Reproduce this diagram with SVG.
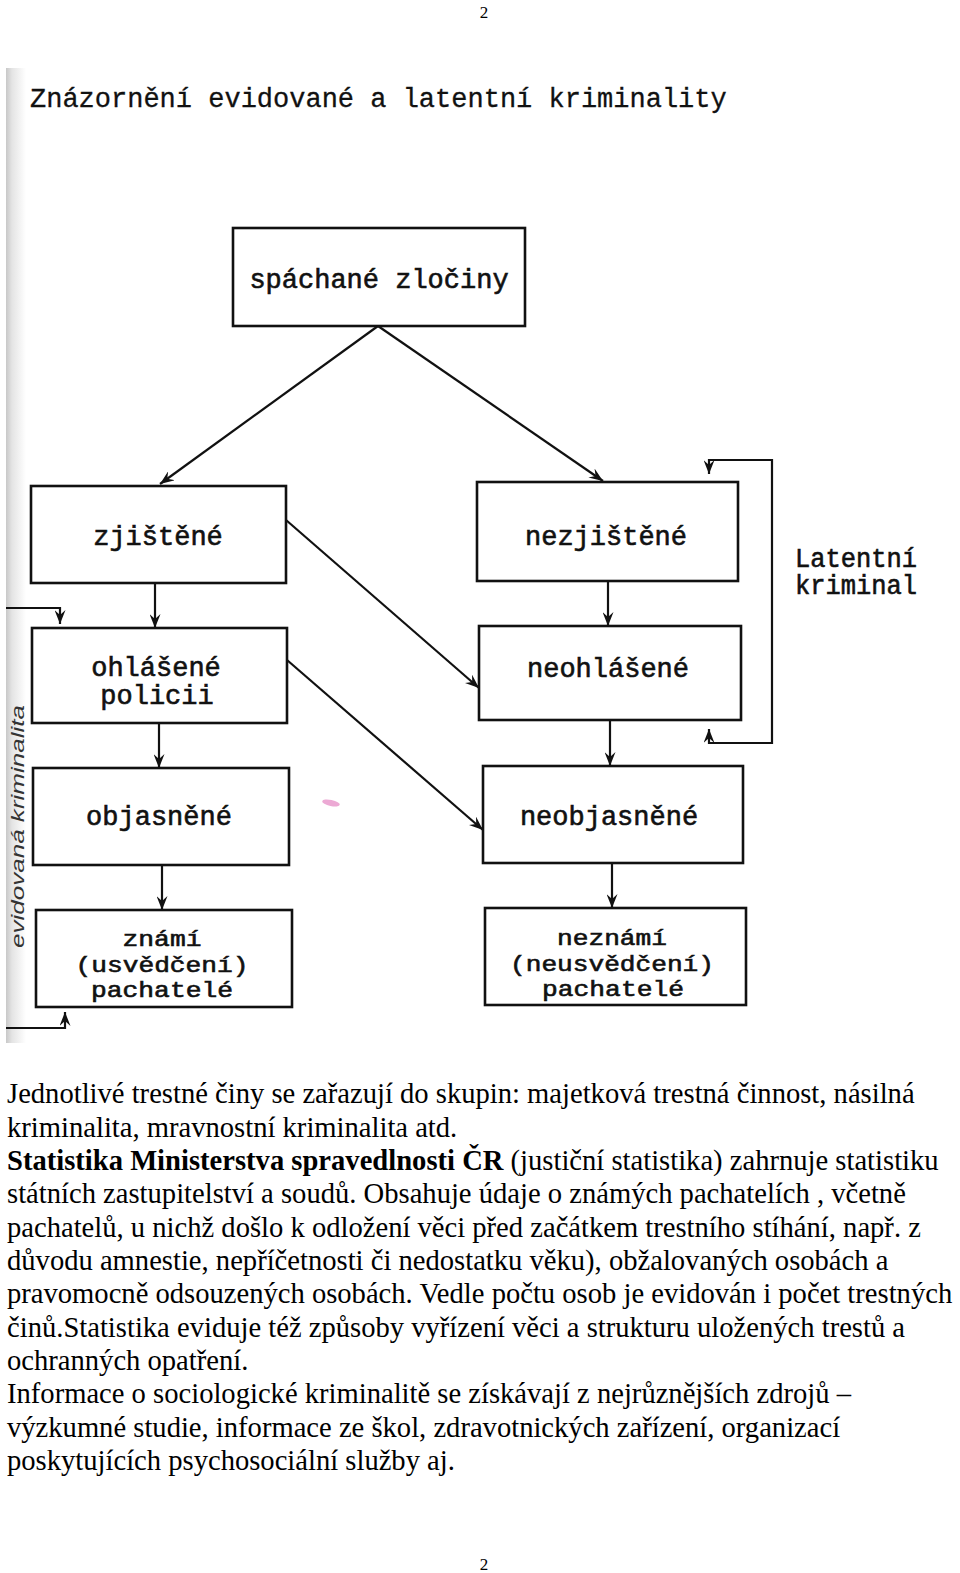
<svg xmlns="http://www.w3.org/2000/svg" width="960" height="1573" viewBox="0 0 960 1573">
<style>
.box{fill:#fff;stroke:#111;stroke-width:2.6}
.lbl{font-family:"Liberation Mono","Courier New",monospace;font-size:27px;fill:#111;stroke:#111;stroke-width:0.6;text-anchor:middle}
.sm{font-size:22px;stroke-width:0.6}
.title{font-family:"Liberation Mono","Courier New",monospace;font-size:27px;fill:#111;stroke:#111;stroke-width:0.3}
.con{fill:none;stroke:#111;stroke-width:2.2}
.body{font-family:"Liberation Serif","Times New Roman",serif;font-size:28.6px;fill:#000}
.pg{font-family:"Liberation Serif","Times New Roman",serif;font-size:17px;fill:#000;text-anchor:middle}
.hand{font-family:"Liberation Sans",Arial,sans-serif;font-style:italic;font-size:19px;fill:#333}
</style>
<defs>
<marker id="ah" viewBox="0 0 14 11" refX="14" refY="5.5" markerWidth="14" markerHeight="11" markerUnits="userSpaceOnUse" orient="auto">
<path d="M0,0 L14,5.5 L0,11 L5,5.5 z" fill="#111"/>
</marker>
<linearGradient id="edge" x1="0" y1="0" x2="1" y2="0">
<stop offset="0" stop-color="#c8c8c8"/>
<stop offset="0.3" stop-color="#e4e4e4"/>
<stop offset="1" stop-color="#ffffff"/>
</linearGradient>
</defs>
<rect width="960" height="1573" fill="#fff"/>
<rect x="6" y="68" width="20" height="975" fill="url(#edge)"/>

<text class="pg" x="484" y="18">2</text>
<text class="title" x="30" y="107">Znázornění evidované a latentní kriminality</text>

<g id="spachane">
<rect class="box" x="233" y="228" width="292" height="98"/>
<text class="lbl" x="379" y="288">spáchané zločiny</text>
</g>
<g id="zjistene">
<rect class="box" x="31" y="486" width="255" height="97"/>
<text class="lbl" x="158" y="545">zjištěné</text>
</g>
<g id="nezjistene">
<rect class="box" x="477" y="482" width="261" height="99"/>
<text class="lbl" x="606" y="545">nezjištěné</text>
</g>
<g id="ohlasene">
<rect class="box" x="32" y="628" width="255" height="95"/>
<text class="lbl" y="676"><tspan x="156">ohlášené</tspan><tspan x="157" dy="28">policii</tspan></text>
</g>
<g id="neohlasene">
<rect class="box" x="479" y="626" width="262" height="94"/>
<text class="lbl" x="608" y="677">neohlášené</text>
</g>
<g id="objasnene">
<rect class="box" x="33" y="768" width="256" height="97"/>
<text class="lbl" x="159" y="825">objasněné</text>
</g>
<g id="neobjasnene">
<rect class="box" x="483" y="766" width="260" height="97"/>
<text class="lbl" x="609" y="825">neobjasněné</text>
</g>
<g id="znami">
<rect class="box" x="36" y="910" width="256" height="97"/>
<text class="lbl sm" x="162" y="946" textLength="79" lengthAdjust="spacingAndGlyphs">známí</text>
<text class="lbl sm" x="162" y="972" textLength="173" lengthAdjust="spacingAndGlyphs">(usvědčení)</text>
<text class="lbl sm" x="162" y="997" textLength="142" lengthAdjust="spacingAndGlyphs">pachatelé</text>
</g>
<g id="neznami">
<rect class="box" x="485" y="908" width="261" height="97"/>
<text class="lbl sm" x="612" y="945" textLength="110" lengthAdjust="spacingAndGlyphs">neznámí</text>
<text class="lbl sm" x="612" y="971" textLength="204" lengthAdjust="spacingAndGlyphs">(neusvědčení)</text>
<text class="lbl sm" x="613" y="996" textLength="142" lengthAdjust="spacingAndGlyphs">pachatelé</text>
</g>

<g id="latentni">
<text class="lbl" style="text-anchor:start" x="795" y="567" textLength="122" lengthAdjust="spacingAndGlyphs">Latentní</text>
<text class="lbl" style="text-anchor:start" x="795" y="594" textLength="122" lengthAdjust="spacingAndGlyphs">kriminal</text>
</g>
<g id="evidovana">
<text class="hand" transform="translate(24,948) rotate(-90)" textLength="243" lengthAdjust="spacingAndGlyphs">evidovaná kriminalita</text>
</g>

<g id="connectors">
<path class="con" d="M378,326 L160,484" marker-end="url(#ah)"/>
<path class="con" d="M378,326 L603,481" marker-end="url(#ah)"/>
<path class="con" d="M155,583 V628" marker-end="url(#ah)"/>
<path class="con" d="M159,723 V768" marker-end="url(#ah)"/>
<path class="con" d="M162,865 V910" marker-end="url(#ah)"/>
<path class="con" d="M608,581 V626" marker-end="url(#ah)"/>
<path class="con" d="M610,720 V766" marker-end="url(#ah)"/>
<path class="con" d="M612,863 V908" marker-end="url(#ah)"/>
<path class="con" d="M286,520 L479,688" marker-end="url(#ah)"/>
<path class="con" d="M287,660 L483,830" marker-end="url(#ah)"/>
<path class="con" d="M709,460 H772 V743 H709"/>
<path class="con" d="M709,459 V474" marker-end="url(#ah)"/>
<path class="con" d="M709,744 V729" marker-end="url(#ah)"/>
<path class="con" d="M6,608 H60 V624" marker-end="url(#ah)"/>
<path class="con" d="M6,1028 H65 V1012" marker-end="url(#ah)"/>
</g>
<ellipse cx="331" cy="803" rx="9" ry="3" fill="#e070b8" opacity="0.6" transform="rotate(12 331 803)"/>

<g id="bodytext" class="body">
<text x="7" y="1103">Jednotlivé trestné činy se zařazují do skupin: majetková trestná činnost, násilná</text>
<text x="7" y="1137">kriminalita, mravnostní kriminalita atd.</text>
<text x="7" y="1170"><tspan font-weight="bold">Statistika Ministerstva spravedlnosti ČR</tspan> (justiční statistika) zahrnuje statistiku</text>
<text x="7" y="1203">státních zastupitelství a soudů. Obsahuje údaje o známých pachatelích , včetně</text>
<text x="7" y="1237">pachatelů, u nichž došlo k odložení věci před začátkem trestního stíhání, např. z</text>
<text x="7" y="1270">důvodu amnestie, nepříčetnosti či nedostatku věku), obžalovaných osobách a</text>
<text x="7" y="1303">pravomocně odsouzených osobách. Vedle počtu osob je evidován i počet trestných</text>
<text x="7" y="1337">činů.Statistika eviduje též způsoby vyřízení věci a strukturu uložených trestů a</text>
<text x="7" y="1370">ochranných opatření.</text>
<text x="7" y="1403">Informace o sociologické kriminalitě se získávají z nejrůznějších zdrojů –</text>
<text x="7" y="1437">výzkumné studie, informace ze škol, zdravotnických zařízení, organizací</text>
<text x="7" y="1470">poskytujících psychosociální služby aj.</text>
</g>
<text class="pg" x="484" y="1570">2</text>
</svg>
